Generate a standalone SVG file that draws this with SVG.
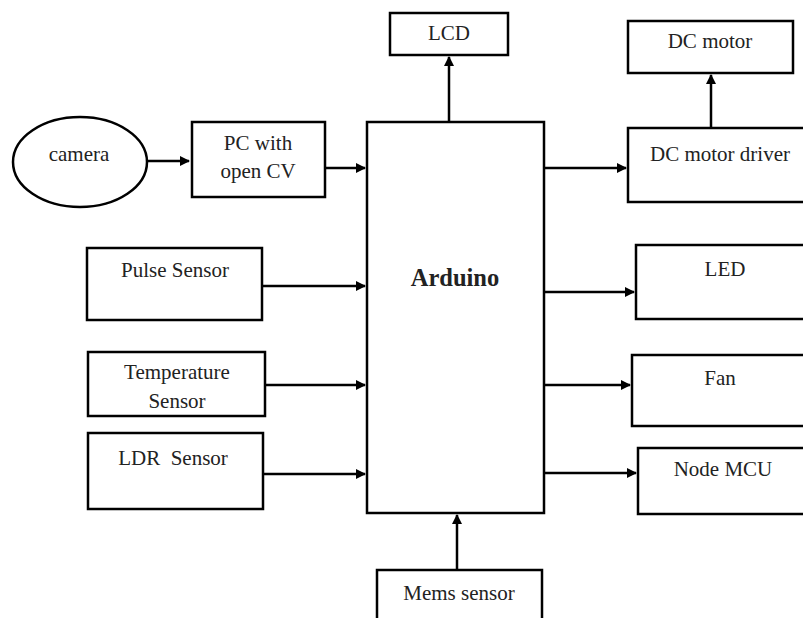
<svg xmlns="http://www.w3.org/2000/svg" width="803" height="618" viewBox="0 0 803 618">
<style>
.b{fill:#fff;stroke:#000;stroke-width:2.5}
.t{font-family:"Liberation Serif",serif;font-size:21px;fill:#222;text-anchor:middle}
.c{fill:none;stroke:#000;stroke-width:2.5}
</style>
<defs>
<marker id="a" viewBox="0 0 10 10" refX="9" refY="5" markerWidth="4" markerHeight="4" markerUnits="strokeWidth" orient="auto">
<path d="M0,0L10,5L0,10z" fill="#000"/>
</marker>
</defs>
<rect width="803" height="618" fill="#fff"/>
<g id="camera"><ellipse class="b" cx="80" cy="162" rx="67" ry="45"/><text class="t" x="79" y="161">camera</text></g>
<g id="pc"><rect class="b" x="192" y="122" width="133" height="75"/><text class="t" x="258" y="150">PC with</text><text class="t" x="258" y="178">open CV</text></g>
<g id="arduino"><rect class="b" x="367" y="122" width="177" height="391"/><text class="t" x="455" y="286" style="font-weight:bold;font-size:24.5px">Arduino</text></g>
<g id="lcd"><rect class="b" x="390" y="13" width="118" height="42"/><text class="t" x="449" y="40">LCD</text></g>
<g id="dcmotor"><rect class="b" x="628" y="21" width="165" height="52"/><text class="t" x="710" y="48">DC motor</text></g>
<g id="dcdriver"><rect class="b" x="628" y="128" width="185" height="74"/><text class="t" x="720" y="161">DC motor driver</text></g>
<g id="pulse"><rect class="b" x="87" y="248" width="175" height="72"/><text class="t" x="175" y="277">Pulse Sensor</text></g>
<g id="temp"><rect class="b" x="88" y="352" width="177" height="64"/><text class="t" x="177" y="379">Temperature</text><text class="t" x="177" y="408">Sensor</text></g>
<g id="ldr"><rect class="b" x="88" y="433" width="175" height="76"/><text class="t" x="173" y="465" style="white-space:pre">LDR  Sensor</text></g>
<g id="led"><rect class="b" x="636" y="245" width="177" height="74"/><text class="t" x="725" y="276">LED</text></g>
<g id="fan"><rect class="b" x="632" y="355" width="181" height="71"/><text class="t" x="720" y="385">Fan</text></g>
<g id="nodemcu"><rect class="b" x="638" y="448" width="175" height="66"/><text class="t" x="723" y="476">Node MCU</text></g>
<g id="mems"><rect class="b" x="377" y="570" width="165" height="60"/><text class="t" x="459" y="600">Mems sensor</text></g>
<g id="connectors">
<path class="c" d="M147,161H189" marker-end="url(#a)"/>
<path class="c" d="M325,168H365" marker-end="url(#a)"/>
<path class="c" d="M449,122V57" marker-end="url(#a)"/>
<path class="c" d="M711,128V75" marker-end="url(#a)"/>
<path class="c" d="M544,168H626" marker-end="url(#a)"/>
<path class="c" d="M262,286H365" marker-end="url(#a)"/>
<path class="c" d="M265,385H365" marker-end="url(#a)"/>
<path class="c" d="M263,474H365" marker-end="url(#a)"/>
<path class="c" d="M544,292H634" marker-end="url(#a)"/>
<path class="c" d="M544,385H630" marker-end="url(#a)"/>
<path class="c" d="M544,473H636" marker-end="url(#a)"/>
<path class="c" d="M457,570V515" marker-end="url(#a)"/>
</g>
</svg>
